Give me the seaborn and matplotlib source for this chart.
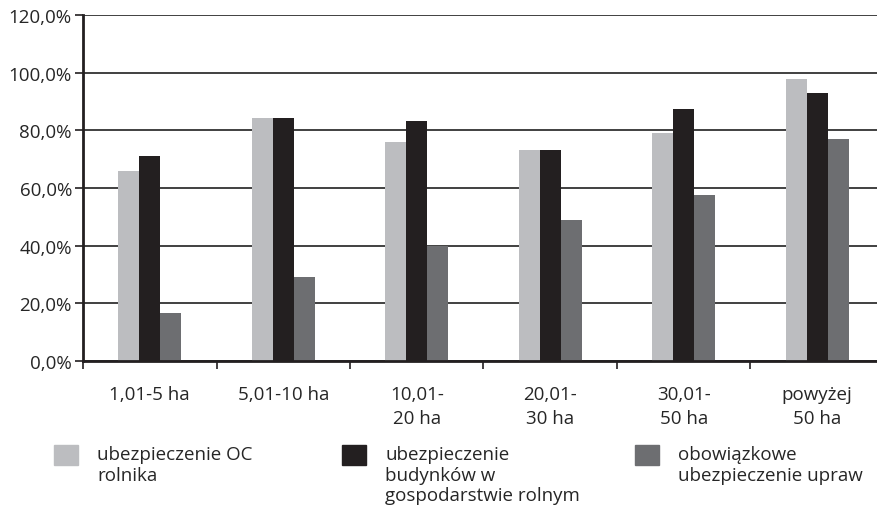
import numpy as np
import pandas as pd
import matplotlib
matplotlib.use('Agg')
import matplotlib.pyplot as plt
import seaborn as sns
from matplotlib.ticker import FuncFormatter, FixedLocator

# Data (percent)
categories = ['1,01-5 ha', '5,01-10 ha', '10,01-\n20 ha', '20,01-\n30 ha', '30,01-\n50 ha', 'powyżej\n50 ha']
series_names = ['ubezpieczenie OC\nrolnika',
                'ubezpieczenie\nbudynków w\ngospodarstwie rolnym',
                'obowiązkowe\nubezpieczenie upraw']
oc_rolnika = [65.9, 84.2, 75.9, 73.1, 79.0, 97.7]
budynki = [71.1, 84.2, 83.2, 73.1, 87.3, 92.9]
uprawy = [16.6, 29.1, 39.9, 48.9, 57.5, 76.9]
colors = ['#bcbdc0', '#231f20', '#6d6e71']

df = pd.DataFrame({
    'cat': categories * 3,
    'series': [s for s in series_names for _ in categories],
    'val': oc_rolnika + budynki + uprawy,
})

sns.set_style('white')
plt.rcParams['font.family'] = ['Open Sans', 'DejaVu Sans']
FS = 13.5

fig = plt.figure(figsize=(8.77, 5.06), dpi=100)
ax = fig.add_axes([83 / 877, 1 - 362 / 506, 801 / 877, 346 / 506])

sns.barplot(data=df, x='cat', y='val', hue='series', palette=colors,
            width=0.47, saturation=1, linewidth=0, gap=0, ax=ax, legend=False)

ax.set_ylim(0, 120)
ax.set_xlim(-0.5, 5.5)
ax.set_yticks(np.arange(0, 121, 20))
ax.yaxis.set_major_formatter(FuncFormatter(lambda v, p: f'{v:.1f}%'.replace('.', ',')))
ax.yaxis.grid(True, color='#404040', linewidth=1.4)
ax.set_axisbelow(True)
ax.xaxis.set_minor_locator(FixedLocator(np.arange(-0.5, 6, 1)))
ax.tick_params(axis='x', which='major', length=0, labelsize=FS, pad=17)
ax.tick_params(axis='x', which='minor', length=6, width=1.2, color='#231f20', direction='out', bottom=True)
ax.tick_params(axis='y', length=6, width=1.2, color='#231f20', direction='out', left=True, labelsize=FS, pad=2)
for t in ax.get_xticklabels():
    t.set_linespacing(1.45)
ax.set_xlabel('')
ax.set_ylabel('')

for side in ['top', 'right']:
    ax.spines[side].set_visible(False)
for side in ['left', 'bottom']:
    ax.spines[side].set_color('#231f20')
    ax.spines[side].set_linewidth(2)

# legend: one entry per column below the plot, square aligned to top of text
handles = [plt.Rectangle((0, 0), 1, 1, color=c) for c in colors]
xs = [54 / 877, 342 / 877, 635 / 877]
for h, name, x in zip(handles, series_names, xs):
    leg = fig.legend([h], [name], loc='upper left', bbox_to_anchor=(x, 1 - 446 / 506),
                     frameon=False, fontsize=FS, handlelength=1.3, handleheight=1.3,
                     handletextpad=1.0, borderaxespad=0, borderpad=0, labelspacing=0)
    for t in leg.get_texts():
        t.set_linespacing(1.18)
    for col in leg._legend_handle_box.get_children():
        for item in col.get_children():
            item.align = 'top'

fig.savefig('out.png', dpi=100)
